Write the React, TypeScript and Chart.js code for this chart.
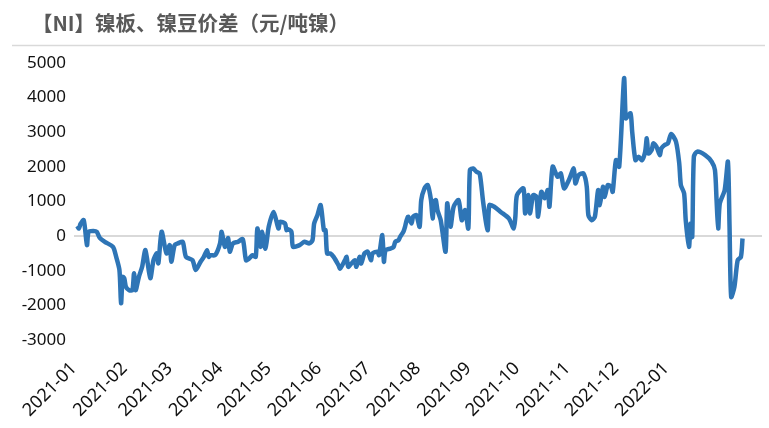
import React, { useEffect, useRef } from 'react';
import { Chart, registerables } from 'chart.js';

Chart.register(...registerables);

const titleText = '【NI】镍板、镍豆价差（元/吨镍）';

const monthLabels = [
  '2021-01', '2021-02', '2021-03', '2021-04', '2021-05', '2021-06', '2021-07',
  '2021-08', '2021-09', '2021-10', '2021-11', '2021-12', '2022-01',
];

const dates = [
  '2021-01-03', '2021-01-04', '2021-01-05', '2021-01-07', '2021-01-09', '2021-01-10', '2021-01-13', '2021-01-15',
  '2021-01-17', '2021-01-20', '2021-01-25', '2021-01-27', '2021-01-29', '2021-01-30', '2021-01-31', '2021-02-01',
  '2021-02-02', '2021-02-04', '2021-02-06', '2021-02-07', '2021-02-08', '2021-02-10', '2021-02-12', '2021-02-14',
  '2021-02-17', '2021-02-19', '2021-02-21', '2021-02-22', '2021-02-24', '2021-02-27', '2021-03-01', '2021-03-02',
  '2021-03-04', '2021-03-06', '2021-03-09', '2021-03-11', '2021-03-15', '2021-03-17', '2021-03-20', '2021-03-22',
  '2021-03-24', '2021-03-25', '2021-03-26', '2021-03-29', '2021-04-01', '2021-04-02', '2021-04-04', '2021-04-06',
  '2021-04-07', '2021-04-09', '2021-04-12', '2021-04-15', '2021-04-17', '2021-04-19', '2021-04-21', '2021-04-23',
  '2021-04-24', '2021-04-26', '2021-04-27', '2021-04-29', '2021-05-01', '2021-05-04', '2021-05-07', '2021-05-08',
  '2021-05-11', '2021-05-12', '2021-05-13', '2021-05-15', '2021-05-16', '2021-05-20', '2021-05-23', '2021-05-26',
  '2021-05-28', '2021-05-29', '2021-05-31', '2021-06-02', '2021-06-04', '2021-06-05', '2021-06-06', '2021-06-08',
  '2021-06-10', '2021-06-13', '2021-06-14', '2021-06-17', '2021-06-18', '2021-06-19', '2021-06-21', '2021-06-23',
  '2021-06-24', '2021-06-26', '2021-06-27', '2021-06-29', '2021-07-01', '2021-07-03', '2021-07-04', '2021-07-07',
  '2021-07-08', '2021-07-10', '2021-07-11', '2021-07-12', '2021-07-15', '2021-07-17', '2021-07-18', '2021-07-20',
  '2021-07-21', '2021-07-23', '2021-07-24', '2021-07-25', '2021-07-26', '2021-07-28', '2021-07-29', '2021-07-31',
  '2021-08-02', '2021-08-03', '2021-08-05', '2021-08-07', '2021-08-09', '2021-08-10', '2021-08-11', '2021-08-12',
  '2021-08-13', '2021-08-15', '2021-08-18', '2021-08-19', '2021-08-21', '2021-08-23', '2021-08-26', '2021-08-28',
  '2021-08-30', '2021-09-01', '2021-09-02', '2021-09-04', '2021-09-06', '2021-09-08', '2021-09-10', '2021-09-12',
  '2021-09-13', '2021-09-14', '2021-09-17', '2021-09-21', '2021-09-26', '2021-09-29', '2021-09-30', '2021-10-01',
  '2021-10-05', '2021-10-06', '2021-10-08', '2021-10-09', '2021-10-11', '2021-10-13', '2021-10-14', '2021-10-16',
  '2021-10-18', '2021-10-20', '2021-10-21', '2021-10-23', '2021-10-26', '2021-10-28', '2021-10-30', '2021-11-02',
  '2021-11-05', '2021-11-06', '2021-11-08', '2021-11-11', '2021-11-13', '2021-11-14', '2021-11-16', '2021-11-18',
  '2021-11-20', '2021-11-21', '2021-11-23', '2021-11-24', '2021-11-26', '2021-11-28', '2021-11-29', '2021-12-01',
  '2021-12-03', '2021-12-06', '2021-12-07', '2021-12-08', '2021-12-10', '2021-12-11', '2021-12-13', '2021-12-15',
  '2021-12-17', '2021-12-19', '2021-12-20', '2021-12-21', '2021-12-23', '2021-12-24', '2021-12-26', '2021-12-28',
  '2021-12-29', '2021-12-31', '2022-01-02', '2022-01-04', '2022-01-07', '2022-01-09', '2022-01-10', '2022-01-12',
  '2022-01-13', '2022-01-15', '2022-01-16', '2022-01-17', '2022-01-18', '2022-01-20', '2022-01-25', '2022-01-29',
  '2022-01-31', '2022-02-01', '2022-02-02', '2022-02-03', '2022-02-06', '2022-02-08', '2022-02-09', '2022-02-10',
  '2022-02-12', '2022-02-14', '2022-02-16', '2022-02-17',
];

const spread = [
  290, 220, 350, 460, -260, 125, 150, 125,
  -60, -165, -310, -600, -980, -1940, -1175, -1225,
  -1465, -1560, -1560, -1070, -1560, -1175, -885, -405,
  -1215, -695, -500, -785, 125, -500, -260, -740,
  -260, -210, -165, -600, -695, -980, -740, -600,
  -405, -600, -550, -550, -210, 125, -310, -60,
  -450, -210, -165, -90, -695, -645, -550, -600,
  220, -310, 125, -360, 270, 700, 220, 415,
  365, 175, 195, 125, -310, -260, -165, -210,
  -115, 365, 605, 895, 175, 175, -500, -500,
  -600, -840, -935, -695, -600, -885, -790, -695,
  -885, -600, -790, -500, -450, -695, -500, -450,
  -550, 30, -740, -405, -360, -310, -165, -115,
  -20, 125, 270, 460, 560, 365, 560, 605,
  270, 1040, 1380, 1475, 1040, 510, 995, 1040,
  750, 460, -450, 945, 270, 850, 1040, 460,
  750, 220, 1910, 1955, 1860, 1810, 1040, 365,
  175, 895, 850, 700, 510, 220, 560, 1185,
  1380, 655, 1185, 655, 1185, 1135, 560, 1280,
  1090, 1330, 850, 2005, 1715, 1810, 1380, 1620,
  1955, 1520, 1760, 1810, 1425, 605, 460, 560,
  1330, 895, 1425, 1135, 1475, 1425, 1280, 2195,
  2005, 4555, 3400, 3450, 3545, 3015, 2195, 2290,
  2195, 2440, 2825, 2390, 2485, 2680, 2580, 2340,
  2535, 2630, 2680, 2950, 2725, 2100, 1475, 1235,
  460, -310, 365, -20, 2290, 2440, 2340, 2150,
  1910, 1040, 220, 945, 1330, 2150, 270, -1755,
  -1465, -695, -600, -70,
];

const yMin = -3000;
const yMax = 5000;
const yStep = 1000;
const xStart = '2021-01-01';
const xEnd = '2022-03-01';

const DAY = 86400000;
const toUTC = (s: string) => {
  const [y, m, d] = s.split('-').map(Number);
  return Date.UTC(y, m - 1, d);
};
const BASE = toUTC(xStart);
const dayOf = (s: string) => (toUTC(s) - BASE) / DAY;

const headerPlugin = {
  id: 'header',
  afterDraw(chart: any) {
    const ctx = chart.ctx;
    ctx.save();
    ctx.font = 'bold 20.5px "Noto Sans CJK SC"';
    ctx.fillStyle = '#595959';
    ctx.textBaseline = 'middle';
    ctx.textAlign = 'left';
    ctx.fillText(titleText, 32, 23);
    ctx.strokeStyle = '#d9d9d9';
    ctx.lineWidth = 1.5;
    ctx.beginPath();
    ctx.moveTo(12, 45.5);
    ctx.lineTo(765, 45.5);
    ctx.stroke();
    ctx.restore();
  },
};

export default function App() {
  const ref = useRef<HTMLCanvasElement | null>(null);

  useEffect(() => {
    if (!ref.current) return;
    const tickValues = monthLabels.map((l) => dayOf(l + '-01'));
    const chart = new Chart(ref.current, {
      type: 'line',
      data: {
        datasets: [
          {
            data: dates.map((d, i) => ({ x: dayOf(d), y: spread[i] })),
            borderColor: '#2E75B6',
            borderWidth: 4.5,
            pointRadius: 0,
            tension: 0.25,
            fill: false,
          },
        ],
      },
      options: {
        responsive: false,
        animation: false,
        layout: { padding: { left: 0, right: 7, top: 63, bottom: 0 } },
        plugins: { legend: { display: false }, tooltip: { enabled: false } },
        scales: {
          x: {
            type: 'linear',
            min: 0,
            max: dayOf(xEnd),
            afterBuildTicks: (s: any) => {
              s.ticks = tickValues.map((v) => ({ value: v }));
            },
            afterFit: (s: any) => {
              s.height = 88;
            },
            ticks: {
              autoSkip: false,
              maxRotation: 45,
              minRotation: 45,
              padding: 18,
              color: '#111',
              font: { family: '"Noto Sans"', size: 18 },
              callback: (v: any) => {
                const i = tickValues.indexOf(Number(v));
                return i >= 0 ? monthLabels[i] : '';
              },
            },
            grid: { display: false, drawTicks: false },
            border: { display: false },
          },
          y: {
            min: yMin,
            max: yMax,
            afterFit: (s: any) => {
              s.width = 74;
            },
            ticks: {
              stepSize: yStep,
              padding: 8,
              color: '#111',
              font: { family: '"Noto Sans"', size: 17 },
              callback: (v: any) => String(v),
            },
            grid: {
              drawTicks: false,
              lineWidth: 2,
              color: (c: any) => (c.tick && c.tick.value === 0 ? '#d9d9d9' : 'rgba(0,0,0,0)'),
            },
            border: { display: false },
          },
        },
      },
      plugins: [headerPlugin],
    });
    return () => chart.destroy();
  }, []);

  return (
    <div style={{ position: 'fixed', left: 0, top: 0, width: 769, height: 428, background: '#fff' }}>
      <canvas ref={ref} width={769} height={428} style={{ display: 'block', width: 769, height: 428 }} />
    </div>
  );
}
